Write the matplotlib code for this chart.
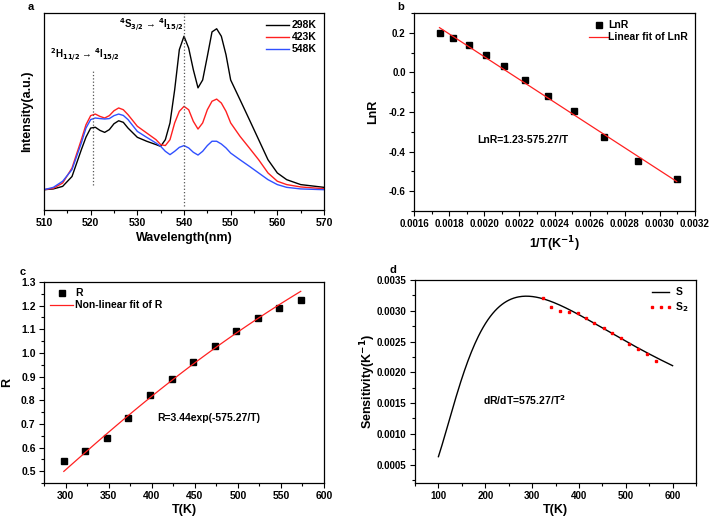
import matplotlib
matplotlib.use("Agg")
import matplotlib.pyplot as plt
import numpy as np
from matplotlib.ticker import MultipleLocator

plt.rcParams["font.family"] = ["Liberation Sans", "DejaVu Sans"]
plt.rcParams["font.weight"] = "bold"
plt.rcParams["axes.labelweight"] = "bold"
plt.rcParams["mathtext.default"] = "bf"

# ---- panel a: emission spectra (arbitrary intensity units) ----
wavelength = [510, 512, 514, 516, 518, 519, 520, 521, 522, 523, 524, 525, 526, 527,
              528, 530, 532, 534, 535, 536, 537, 538, 539, 540, 541, 542, 543, 544,
              545, 546, 547, 548, 549, 550, 552, 554, 556, 558, 560, 562, 565, 570]
I_298 = [10.3, 10.7, 12.0, 17.0, 30.6, 37.0, 41.6, 42.0, 40.4, 39.4, 40.8, 43.8, 45.3, 44.5,
         41.6, 36.9, 34.9, 33.2, 32.3, 35.7, 44.2, 61.0, 81.4, 88.2, 82.2, 71.2, 62.0, 66.0,
         78.0, 90.4, 92.0, 88.2, 78.8, 66.0, 56.0, 45.9, 35.7, 25.5, 18.8, 15.4, 12.9, 11.5]
I_423 = [10.3, 11.0, 13.7, 21.3, 35.7, 43.3, 47.9, 48.7, 47.5, 46.7, 47.9, 50.4, 51.8, 50.9,
         48.4, 42.5, 39.1, 35.7, 33.2, 32.7, 35.7, 44.2, 50.1, 52.6, 50.9, 45.0, 41.1, 44.2,
         50.9, 55.2, 56.3, 54.3, 50.1, 44.2, 37.4, 31.5, 25.5, 18.8, 14.6, 12.9, 11.7, 10.8]
I_548 = [10.3, 11.5, 14.6, 20.5, 34.0, 41.6, 45.9, 46.7, 46.4, 46.2, 46.4, 47.9, 48.7, 48.0,
         45.9, 39.9, 36.9, 34.0, 32.3, 29.8, 28.1, 29.8, 31.8, 32.7, 31.5, 29.3, 27.9, 29.8,
         32.7, 34.9, 34.9, 33.5, 31.5, 28.9, 25.5, 22.2, 18.8, 15.4, 12.9, 11.5, 10.7, 10.3]

# ---- panels b, c: ratio R vs temperature ----
T_c = [298, 323, 348, 373, 398, 423, 448, 473, 498, 523, 548, 573]
R_c = [0.543, 0.585, 0.641, 0.723, 0.821, 0.889, 0.963, 1.031, 1.091, 1.146, 1.192, 1.223]
T_b = [323, 348, 373, 398, 423, 448, 473, 498, 523, 548, 573]
LnR_b = [-0.536, -0.446, -0.324, -0.196, -0.119, -0.037, 0.030, 0.089, 0.137, 0.176, 0.201]

# fit constants printed on the figure
A_FIT = 3.44
LN_A = 1.23
E_FIT = 575.27

# ---- panel d: experimental sensitivity S2 ----
T_s2 = [323, 340.7, 360, 378.5, 397, 414.8, 433, 452.6, 470, 489.6, 508, 526.6, 545, 563.7]
S2 = [0.003202, 0.003067, 0.002996, 0.002975, 0.002964, 0.002877, 0.002796, 0.002726,
      0.002644, 0.002558, 0.002466, 0.002379, 0.002292, 0.002179]

W, H = 709, 518
fig = plt.figure(figsize=(W / 100, H / 100), dpi=100)


def box(l, t, r, b):
    return [l / W, (H - b) / H, (r - l) / W, (b - t) / H]


def style(ax, size=7.5):
    ax.tick_params(which="both", direction="out", top=False, right=False,
                   labelsize=size, width=0.8, pad=2.5)
    ax.tick_params(which="major", length=3.5)
    ax.tick_params(which="minor", length=2)
    for s in ax.spines.values():
        s.set_linewidth(0.9)


def labels(ax, xl, yl, xy, yx, size=9):
    # xy / yx: label centre in axes fraction
    ax.set_xlabel(xl, fontsize=size)
    ax.set_ylabel(yl, fontsize=size)
    ax.xaxis.set_label_coords(0.5, xy)
    ax.yaxis.set_label_coords(yx, 0.5)
    ax.xaxis.label.set_va("center")
    ax.yaxis.label.set_va("center")


LEG = dict(size=7.5, weight="bold")

# ---------- a ----------
ax = fig.add_axes(box(44, 13, 324, 210))
ax.plot(wavelength, I_298, color="black", lw=1.0, label="298K")
ax.plot(wavelength, I_423, color="#ff2020", lw=1.0, label="423K")
ax.plot(wavelength, I_548, color="#3050ff", lw=1.0, label="548K")
ax.plot([520.6, 520.6], [12.9, 70.9], color="#555555", lw=0.9, ls=":")
ax.plot([540, 540], [2, 100], color="#555555", lw=0.9, ls=":")
ax.set_xlim(510, 570)
ax.set_ylim(0, 100)
ax.xaxis.set_major_locator(MultipleLocator(10))
ax.xaxis.set_minor_locator(MultipleLocator(5))
ax.set_yticks([])
style(ax)
labels(ax, "Wavelength(nm)", "Intensity(a.u.)", -0.142, -0.061)
ax.text(511.2, 78.8, r"$^{2}$H$_{11/2}$ → $^{4}$I$_{15/2}$", fontsize=7, va="center")
ax.text(526.0, 94.0, r"$^{4}$S$_{3/2}$ → $^{4}$I$_{15/2}$", fontsize=7, va="center")
ax.legend(loc="upper right", frameon=False, handlelength=2.2,
          handletextpad=0.3, labelspacing=0.2, borderaxespad=0.3, prop=LEG)
fig.text(28 / W, 1 - 7 / H, "a", fontsize=8, fontweight="bold", va="center")

# ---------- b ----------
ax = fig.add_axes(box(414, 13, 695, 211))
invT = 1.0 / np.array(T_b, dtype=float)
ax.plot(invT, LnR_b, ls="none", marker="s", ms=3.8, color="black", label="LnR")
xf = np.linspace(invT.min(), invT.max(), 50)
ax.plot(xf, LN_A - E_FIT * xf, color="#ff2020", lw=0.9, label="Linear fit of LnR")
ax.set_xlim(0.0016, 0.0032)
ax.set_ylim(-0.7, 0.3)
ax.xaxis.set_major_locator(MultipleLocator(0.0002))
ax.xaxis.set_minor_locator(MultipleLocator(0.0001))
ax.yaxis.set_major_locator(MultipleLocator(0.2))
ax.yaxis.set_minor_locator(MultipleLocator(0.1))
ax.set_xticks(np.arange(0.0016, 0.00321, 0.0002))
ax.set_xticklabels([f"{v:.4f}" for v in np.arange(0.0016, 0.00321, 0.0002)])
ax.set_yticks(np.arange(-0.6, 0.21, 0.2))
ax.set_yticklabels([f"{v:.1f}" for v in np.arange(-0.6, 0.21, 0.2)])
style(ax, 7)
labels(ax, r"1/T(K$^{-1}$)", "LnR", -0.17, -0.146)
ax.text(0.00196, -0.34, "LnR=1.23-575.27/T", fontsize=7.5, va="center")
ax.legend(loc="upper right", frameon=False, handlelength=1.8, handletextpad=0.0,
          labelspacing=0.2, borderaxespad=0.3, prop=LEG)
fig.text(397 / W, 1 - 7 / H, "b", fontsize=8, fontweight="bold", va="center")

# ---------- c ----------
ax = fig.add_axes(box(44, 282, 324, 483))
ax.plot(T_c, R_c, ls="none", marker="s", ms=3.8, color="black", label="R")
Tf = np.linspace(T_c[0], T_c[-1], 100)
ax.plot(Tf, A_FIT * np.exp(-E_FIT / Tf), color="#ff2020", lw=0.9,
        label="Non-linear fit of R")
ax.set_xlim(275, 600)
ax.set_ylim(0.45, 1.3)
ax.xaxis.set_major_locator(MultipleLocator(50))
ax.xaxis.set_minor_locator(MultipleLocator(25))
ax.yaxis.set_minor_locator(MultipleLocator(0.05))
ax.set_yticks(np.arange(0.5, 1.31, 0.1))
ax.set_yticklabels([f"{v:.1f}" for v in np.arange(0.5, 1.31, 0.1)])
style(ax)
labels(ax, "T(K)", "R", -0.134, -0.132)
ax.text(407, 0.725, "R=3.44exp(-575.27/T)", fontsize=7.5, va="center")
ax.legend(loc="upper left", frameon=False, handlelength=2.2, handletextpad=0.2,
          labelspacing=0.2, borderaxespad=0.2, prop=LEG)
fig.text(20 / W, 1 - 272 / H, "c", fontsize=8, fontweight="bold", va="center")

# ---------- d ----------
ax = fig.add_axes(box(415, 280, 696, 483))
Td = np.linspace(100, 600, 200)
ax.plot(Td, A_FIT * E_FIT / Td ** 2 * np.exp(-E_FIT / Td), color="black", lw=1.0,
        label="S")
ax.plot(T_s2, S2, ls="none", marker="s", ms=1.8, color="red", label=r"S$_{2}$")
ax.set_xlim(50, 650)
ax.set_ylim(0.0002, 0.0035)
ax.xaxis.set_major_locator(MultipleLocator(100))
ax.xaxis.set_minor_locator(MultipleLocator(50))
ax.set_yticks(np.arange(0.0005, 0.00351, 0.0005))
ax.yaxis.set_minor_locator(MultipleLocator(0.00025))
ax.set_yticklabels([f"{v:.4f}" for v in np.arange(0.0005, 0.00351, 0.0005)])
style(ax, 7)
labels(ax, "T(K)", r"Sensitivity(K$^{-1}$)", -0.133, -0.167)
ax.text(195, 0.00155, r"dR/dT=575.27/T$^{2}$", fontsize=7.5, va="center")
ax.legend(loc="upper right", frameon=False, handlelength=2.2, handletextpad=0.3,
          labelspacing=0.3, borderaxespad=0.3, numpoints=3, prop=LEG)
fig.text(390 / W, 1 - 270 / H, "d", fontsize=8, fontweight="bold", va="center")

fig.savefig("out.png", dpi=100)
